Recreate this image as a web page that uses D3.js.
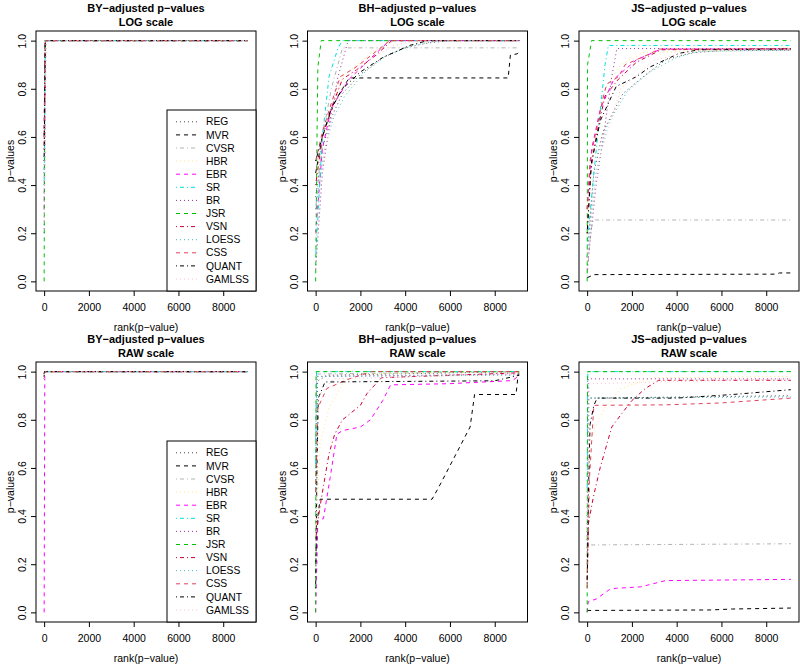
<!DOCTYPE html>
<html>
<head>
<meta charset="utf-8">
<script src="https://cdn.jsdelivr.net/npm/d3@7"></script>
<style>
  body { margin: 0; background: #fff; }
  svg { display: block; font-family: "Liberation Sans", Arial, sans-serif; }
</style>
</head>
<body>
<div id="chart"></div>
<script>
// Methods, in legend / drawing order
const methods = ["REG", "MVR", "CVSR", "HBR", "EBR", "SR", "BR", "JSR", "VSN", "LOESS", "CSS", "QUANT", "GAMLSS"];
const colors  = ["#4d4d4d", "#000000", "#b3b3b3", "#ffe680", "#ff00ff", "#00e0e0", "#9b30a0", "#00c000", "#cc0033", "#40c0c0", "#e0405a", "#000000", "#ffc0cb"];
const dashes  = ["1,3", "4,4", "1,3,4,3"];   // R lty 3, 2, 4 cycling

const nRank = 9100;
const xTicks = [0, 2000, 4000, 6000, 8000];
const yTicks = [0, 0.2, 0.4, 0.6, 0.8, 1];

// [rank, adjusted p] per method (same order as methods)
const byLog = [
  [[1, 0.45], [60, 1], [9100, 1]],
  [[1, 0.6], [40, 1], [9100, 1]],
  [[1, 0.5], [50, 1], [9100, 1]],
  [[1, 0.7], [40, 1], [9100, 1]],
  [[1, 0.3], [60, 1], [9100, 1]],
  [[1, 0.4], [50, 1], [9100, 1]],
  [[1, 0.2], [80, 1], [9100, 1]],
  [[1, 0], [30, 1], [9100, 1]],
  [[1, 0.55], [50, 1], [9100, 1]],
  [[1, 0.35], [70, 1], [9100, 1]],
  [[1, 0.6], [40, 1], [9100, 1]],
  [[1, 0.5], [50, 1], [9100, 1]],
  [[1, 0.25], [80, 1], [9100, 1]]
];

const bhLog = [
  [[1, 0.35], [300, 0.55], [700, 0.68], [1200, 0.78], [2000, 0.86], [3000, 0.93], [4000, 0.97], [5000, 0.99], [6000, 1], [9100, 1]],
  [[1, 0.45], [300, 0.6], [700, 0.71], [1000, 0.77], [1500, 0.845], [8600, 0.845], [8700, 0.94], [9000, 0.945], [9100, 0.955]],
  [[1, 0.3], [300, 0.6], [700, 0.8], [1200, 0.97], [9100, 0.97]],
  [[1, 0.4], [500, 0.65], [1200, 0.85], [2500, 0.95], [3500, 1], [9100, 1]],
  [[1, 0.2], [300, 0.55], [700, 0.72], [1500, 0.84], [2500, 0.93], [3300, 1], [9100, 1]],
  [[1, 0.1], [300, 0.6], [600, 0.85], [1000, 0.97], [1200, 1], [9100, 1]],
  [[1, 0.05], [300, 0.45], [700, 0.7], [1000, 0.85], [1450, 1], [9100, 1]],
  [[1, 0], [50, 0.5], [100, 0.89], [250, 1], [9100, 1]],
  [[1, 0.4], [300, 0.6], [700, 0.72], [1200, 0.84], [2000, 0.89], [2700, 0.94], [3400, 1], [9100, 1]],
  [[1, 0.3], [400, 0.55], [800, 0.68], [1300, 0.77], [2200, 0.87], [3200, 0.94], [4300, 0.98], [5500, 1], [9100, 1]],
  [[1, 0.5], [300, 0.62], [700, 0.74], [1100, 0.85], [1800, 0.89], [2500, 0.94], [3300, 1], [9100, 1]],
  [[1, 0.5], [300, 0.6], [700, 0.72], [1200, 0.8], [2000, 0.87], [3000, 0.93], [4200, 0.98], [5000, 1], [9100, 1]],
  [[1, 0.2], [400, 0.55], [1000, 0.78], [2000, 0.9], [3500, 0.98], [4500, 1], [9100, 1]]
];

const jsLog = [
  [[1, 0.1], [300, 0.45], [700, 0.62], [1600, 0.78], [2500, 0.85], [3500, 0.92], [4700, 0.95], [6000, 0.958], [9100, 0.96]],
  [[1, 0.015], [300, 0.028], [8400, 0.03], [8600, 0.035], [9100, 0.035]],
  [[1, 0.02], [150, 0.2], [270, 0.255], [9100, 0.255]],
  [[1, 0.2], [200, 0.5], [800, 0.8], [1500, 0.9], [2500, 0.95], [9100, 0.97]],
  [[1, 0.3], [200, 0.55], [600, 0.72], [1200, 0.84], [2200, 0.92], [3300, 0.965], [9100, 0.965]],
  [[1, 0.15], [300, 0.45], [500, 0.63], [600, 0.72], [800, 0.9], [950, 0.98], [9100, 0.98]],
  [[1, 0.05], [400, 0.4], [800, 0.65], [1100, 0.85], [1330, 0.967], [9100, 0.967]],
  [[1, 0], [20, 0.9], [200, 1], [9100, 1]],
  [[1, 0.2], [150, 0.45], [400, 0.6], [800, 0.77], [1400, 0.84], [2200, 0.91], [3300, 0.962], [9100, 0.967]],
  [[1, 0.1], [400, 0.45], [900, 0.65], [1800, 0.79], [2800, 0.87], [4000, 0.93], [5000, 0.955], [9100, 0.96]],
  [[1, 0.3], [130, 0.5], [300, 0.58], [730, 0.77], [880, 0.82], [1400, 0.85], [1700, 0.9], [2800, 0.945], [3200, 0.965], [9100, 0.965]],
  [[1, 0.2], [200, 0.5], [600, 0.67], [1300, 0.81], [2200, 0.85], [2800, 0.89], [4100, 0.947], [5000, 0.962], [9100, 0.965]],
  [[1, 0.1], [500, 0.5], [1500, 0.8], [3000, 0.92], [5000, 0.96], [9100, 0.965]]
];

const byRaw = [
  [[1, 0.98], [20, 1], [9100, 1]],
  [[1, 0.99], [20, 1], [9100, 1]],
  [[1, 0.97], [20, 1], [9100, 1]],
  [[1, 0.98], [20, 1], [9100, 1]],
  [[1, 0], [30, 1], [9100, 1]],
  [[1, 0.99], [20, 1], [9100, 1]],
  [[1, 0.97], [20, 1], [9100, 1]],
  [[1, 0.99], [20, 1], [9100, 1]],
  [[1, 0.98], [20, 1], [9100, 1]],
  [[1, 0.97], [20, 1], [9100, 1]],
  [[1, 0.99], [20, 1], [9100, 1]],
  [[1, 0.98], [20, 1], [9100, 1]],
  [[1, 0.97], [20, 1], [9100, 1]]
];

const bhRaw = [
  [[1, 0.4], [80, 0.96], [500, 0.985], [9100, 1]],
  [[1, 0.2], [100, 0.4], [200, 0.47], [5200, 0.47], [5500, 0.52], [6900, 0.77], [7100, 0.905], [8950, 0.905], [9050, 0.99], [9100, 0.99]],
  [[1, 0.7], [50, 0.99], [9100, 1]],
  [[1, 0.3], [200, 0.7], [600, 0.85], [1200, 0.95], [2000, 0.99], [9100, 1]],
  [[1, 0], [100, 0.38], [350, 0.39], [650, 0.56], [950, 0.74], [1200, 0.755], [2000, 0.77], [2450, 0.8], [3000, 0.88], [3350, 0.945], [6000, 0.95], [8800, 0.963], [9100, 0.985]],
  [[1, 0.6], [40, 1], [9100, 1]],
  [[1, 0.5], [60, 0.98], [9100, 0.99]],
  [[1, 0], [20, 1], [9100, 1]],
  [[1, 0.3], [100, 0.38], [250, 0.47], [600, 0.66], [850, 0.74], [1200, 0.8], [2000, 0.86], [2300, 0.91], [2950, 0.975], [9100, 0.995]],
  [[1, 0.45], [50, 0.98], [9100, 0.985]],
  [[1, 0.5], [100, 0.85], [500, 0.93], [1500, 0.97], [2500, 1], [9100, 1]],
  [[1, 0.1], [60, 0.6], [120, 0.89], [420, 0.957], [8000, 0.962], [9100, 0.985]],
  [[1, 0.3], [150, 0.9], [800, 0.97], [9100, 0.99]]
];

const jsRaw = [
  [[1, 0.3], [80, 0.89], [9100, 0.9]],
  [[1, 0.008], [5500, 0.01], [6500, 0.014], [8500, 0.017], [9100, 0.018]],
  [[1, 0.28], [9100, 0.285]],
  [[1, 0.2], [100, 0.7], [300, 0.76], [800, 0.85], [1500, 0.93], [3000, 0.975], [9100, 0.98]],
  [[1, 0], [50, 0.045], [400, 0.055], [1000, 0.095], [1300, 0.1], [2400, 0.106], [3500, 0.132], [9100, 0.137]],
  [[1, 0.5], [30, 1], [9100, 1]],
  [[1, 0.2], [50, 0.97], [9100, 0.97]],
  [[1, 0], [20, 1], [9100, 1]],
  [[1, 0.12], [60, 0.37], [280, 0.48], [580, 0.6], [1100, 0.77], [1500, 0.82], [2000, 0.88], [2600, 0.93], [3200, 0.964], [9100, 0.964]],
  [[1, 0.4], [40, 0.89], [9100, 0.895]],
  [[1, 0.1], [100, 0.55], [300, 0.86], [3500, 0.862], [6000, 0.87], [9100, 0.89]],
  [[1, 0.12], [60, 0.5], [130, 0.78], [300, 0.86], [450, 0.89], [4000, 0.89], [6500, 0.905], [9100, 0.925]],
  [[1, 0.3], [100, 0.95], [9100, 0.97]]
];

const panels = [
  { title: "BY\u2212adjusted p\u2212values", sub: "LOG scale", data: byLog, legend: true },
  { title: "BH\u2212adjusted p\u2212values", sub: "LOG scale", data: bhLog },
  { title: "JS\u2212adjusted p\u2212values", sub: "LOG scale", data: jsLog },
  { title: "BY\u2212adjusted p\u2212values", sub: "RAW scale", data: byRaw, legend: true },
  { title: "BH\u2212adjusted p\u2212values", sub: "RAW scale", data: bhRaw },
  { title: "JS\u2212adjusted p\u2212values", sub: "RAW scale", data: jsRaw }
];

// Layout
const width = 800, height = 664;
const colLeft = [36, 307.5, 579];
const rowTop = [31, 362];
const boxW = 220, boxH = 260;

const svg = d3.select("#chart").append("svg")
  .attr("width", width)
  .attr("height", height);

const pad = 0.04 * (nRank - 1);

panels.forEach((p, i) => {
  const L = colLeft[i % 3], T = rowTop[Math.floor(i / 3)];
  const x = d3.scaleLinear().domain([1 - pad, nRank + pad]).range([L, L + boxW]);
  const y = d3.scaleLinear().domain([-0.04, 1.04]).range([T + boxH, T]);
  const g = svg.append("g");

  // Titles
  g.append("text").attr("x", L + boxW / 2).attr("y", T - 19)
    .attr("text-anchor", "middle").attr("font-weight", "bold").attr("font-size", 11)
    .text(p.title);
  g.append("text").attr("x", L + boxW / 2).attr("y", T - 5)
    .attr("text-anchor", "middle").attr("font-weight", "bold").attr("font-size", 11)
    .text(p.sub);

  // Lines
  const line = d3.line().x(d => x(d[0])).y(d => y(d[1]));
  p.data.forEach((s, k) => {
    g.append("path")
      .attr("d", line(s))
      .attr("fill", "none")
      .attr("stroke", colors[k])
      .attr("stroke-width", 1)
      .attr("stroke-dasharray", dashes[k % 3]);
  });

  // Axes
  const xa = g.append("g").attr("transform", `translate(0,${T + boxH})`)
    .call(d3.axisBottom(x).tickValues(xTicks).tickSize(5).tickPadding(8).tickFormat(d3.format("d")));
  xa.select(".domain").remove();
  xa.selectAll("text").attr("font-size", 10.5).attr("font-family", null).attr("fill", "#000");

  const ya = g.append("g").attr("transform", `translate(${L},0)`)
    .call(d3.axisLeft(y).tickValues(yTicks).tickSize(5).tickFormat(d3.format(".1f")));
  ya.select(".domain").remove();
  ya.selectAll("text")
    .attr("x", 0).attr("y", 0).attr("dy", 0)
    .attr("transform", "translate(-10,0) rotate(-90)")
    .attr("text-anchor", "middle")
    .attr("font-size", 10.5).attr("font-family", null).attr("fill", "#000");
  g.selectAll(".tick line").attr("stroke", "#000");

  // Axis titles
  g.append("text").attr("x", L + boxW / 2).attr("y", T + boxH + 40)
    .attr("text-anchor", "middle").attr("font-size", 10.5)
    .text("rank(p\u2212value)");
  g.append("text")
    .attr("transform", `translate(${L - 22},${T + boxH / 2}) rotate(-90)`)
    .attr("text-anchor", "middle").attr("font-size", 10.5)
    .text("p\u2212values");

  // Box
  g.append("rect").attr("x", L).attr("y", T).attr("width", boxW).attr("height", boxH)
    .attr("fill", "none").attr("stroke", "#000").attr("stroke-width", 1);

  // Legend (bottom right)
  if (p.legend) {
    const lw = 89, lh = 181, step = 13.1;
    const lx = L + boxW - lw, ly = T + boxH - lh;
    const lg = g.append("g");
    lg.append("rect").attr("x", lx).attr("y", ly).attr("width", lw).attr("height", lh)
      .attr("fill", "#fff").attr("stroke", "#000");
    methods.forEach((m, k) => {
      const yy = T + boxH - 12 - (methods.length - 1 - k) * step;
      lg.append("line").attr("x1", lx + 9).attr("x2", lx + 30).attr("y1", yy).attr("y2", yy)
        .attr("stroke", colors[k]).attr("stroke-dasharray", dashes[k % 3]);
      lg.append("text").attr("x", lx + 39).attr("y", yy).attr("dy", "0.35em")
        .attr("font-size", 10.3).text(m);
    });
  }
});
</script>
</body>
</html>
